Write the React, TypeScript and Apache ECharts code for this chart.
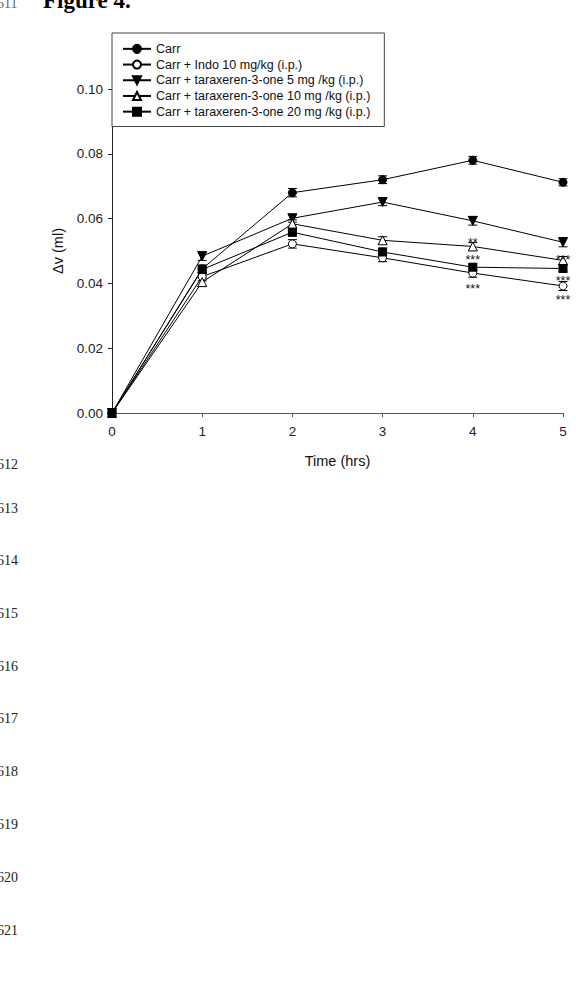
import React, { useEffect, useRef } from "react";
import * as echarts from "echarts";

// ---- data ----
const times = [0, 1, 2, 3, 4, 5];
const seriesNames = [
  "Carr",
  "Carr + Indo 10 mg/kg (i.p.)",
  "Carr + taraxeren-3-one 5 mg /kg (i.p.)",
  "Carr + taraxeren-3-one 10 mg /kg (i.p.)",
  "Carr + taraxeren-3-one 20 mg /kg (i.p.)",
];
const carr = [0, 0.0445, 0.068, 0.072, 0.078, 0.0712];
const indo = [0, 0.0421, 0.0522, 0.0479, 0.0432, 0.0392];
const tx5 = [0, 0.0484, 0.0601, 0.0651, 0.0593, 0.0527];
const tx10 = [0, 0.0404, 0.0584, 0.0533, 0.0514, 0.0471];
const tx20 = [0, 0.0443, 0.0558, 0.0497, 0.0450, 0.0446];
const carrErr = [0, 0.0012, 0.0013, 0.0012, 0.0012, 0.0011];
const indoErr = [0, 0.0013, 0.0013, 0.0012, 0.0013, 0.0014];
const tx5Err = [0, 0.0013, 0.0012, 0.0011, 0.0013, 0.0014];
const tx10Err = [0, 0.0013, 0.0012, 0.0011, 0.0012, 0.0012];
const tx20Err = [0, 0.0012, 0.0012, 0.0012, 0.0011, 0.0011];
// significance marks: [time, value, text]
const starMarks: [number, number, string][] = [
  [4, 0.0526, "**"],
  [4, 0.0473, "***"],
  [4, 0.0384, "***"],
  [5, 0.0473, "***"],
  [5, 0.0408, "***"],
  [5, 0.035, "***"],
];
const yTickDecimals = 2;
const xAxisTitle = "Time (hrs)";
const yAxisTitle = "\u0394v (ml)";
const figureTitle = "Figure 4.";
const topLineNumber = "611";
const lineNumbers = ["612", "613", "614", "615", "616", "617", "618", "619", "620", "621"];

const W = 576;
const H = 982;
const lineNumberY = [464, 508, 560, 613, 666, 718, 771, 824, 877, 930];

const SANS = "'Liberation Sans', Arial, sans-serif";
const SERIF = "'Liberation Serif', 'Times New Roman', serif";

function errorSeries(vals: number[], errs: number[]) {
  return {
    type: "custom",
    silent: true,
    z: 1,
    data: times.map((t, i) => [t, vals[i], errs[i]]),
    renderItem: (_params: any, api: any) => {
      const x = api.value(0);
      const y = api.value(1);
      const e = api.value(2);
      if (!e) return { type: "group", children: [] };
      const top = api.coord([x, y + e]);
      const bot = api.coord([x, y - e]);
      const hw = 4.5;
      const st = { stroke: "#000", lineWidth: 1 };
      return {
        type: "group",
        children: [
          { type: "line", shape: { x1: top[0], y1: top[1], x2: bot[0], y2: bot[1] }, style: st },
          { type: "line", shape: { x1: top[0] - hw, y1: top[1], x2: top[0] + hw, y2: top[1] }, style: st },
          { type: "line", shape: { x1: bot[0] - hw, y1: bot[1], x2: bot[0] + hw, y2: bot[1] }, style: st },
        ],
      };
    },
  };
}

function lineSeries(name: string, vals: number[], symbol: string, size: number, hollow: boolean, rotate = 0) {
  return {
    type: "line",
    name,
    data: times.map((t, i) => [t, vals[i]]),
    symbol,
    symbolSize: size,
    symbolRotate: rotate,
    showAllSymbol: true,
    z: 3,
    lineStyle: { color: "#000", width: 1 },
    itemStyle: { color: hollow ? "#fff" : "#000", borderColor: "#000", borderWidth: 1 },
    emphasis: { disabled: true },
  };
}

export default function App() {
  const ref = useRef<HTMLDivElement>(null);
  useEffect(() => {
    if (!ref.current) return;
    const chart = echarts.init(ref.current, undefined, { renderer: "svg" });
    const graphics: any[] = [
      {
        type: "text",
        x: 43,
        y: -11,
        style: { text: figureTitle, font: `bold 23px ${SERIF}`, fill: "#000" },
      },
      {
        type: "text",
        x: -3,
        y: -4,
        style: { text: topLineNumber, font: `14px ${SERIF}`, fill: "#666" },
      },
      ...lineNumbers.map((t, i) => ({
        type: "text",
        x: -3,
        y: lineNumberY[i],
        style: { text: t, font: `14px ${SERIF}`, fill: "#222", verticalAlign: "middle" },
      })),
    ];
    chart.setOption({
      animation: false,
      backgroundColor: "#fff",
      textStyle: { fontFamily: SANS },
      grid: { left: 112, right: 13, top: 89, bottom: 569, containLabel: false },
      legend: {
        data: seriesNames,
        orient: "vertical",
        left: 112,
        top: 33,
        padding: [8, 14, 7, 10],
        itemWidth: 28,
        itemHeight: 10,
        itemGap: 0,
        borderColor: "#444",
        borderWidth: 1,
        backgroundColor: "#fff",
        selectedMode: false,
        textStyle: { fontSize: 12.5, color: "#111", fontFamily: SANS, lineHeight: 15.7 },
        z: 10,
      },
      xAxis: {
        type: "value",
        min: 0,
        max: 5,
        interval: 1,
        name: xAxisTitle,
        nameLocation: "middle",
        nameGap: 40,
        nameTextStyle: { fontSize: 14.5, color: "#111", fontFamily: SANS },
        axisLine: { show: true, onZero: false, lineStyle: { color: "#555", width: 1 } },
        axisTick: { show: true, inside: false, length: 4, lineStyle: { color: "#555" } },
        axisLabel: { fontSize: 13.5, color: "#222", margin: 11, fontFamily: SANS },
        splitLine: { show: false },
      },
      yAxis: {
        type: "value",
        min: 0,
        max: 0.1,
        interval: 0.02,
        name: yAxisTitle,
        nameLocation: "middle",
        nameGap: 47,
        nameTextStyle: { fontSize: 14.5, color: "#111", fontFamily: SANS },
        axisLine: { show: true, onZero: false, lineStyle: { color: "#222", width: 1 } },
        axisTick: { show: true, inside: false, length: 4, lineStyle: { color: "#222" } },
        axisLabel: {
          fontSize: 13.5,
          color: "#222",
          margin: 9,
          fontFamily: SANS,
          formatter: (v: number) => v.toFixed(yTickDecimals),
        },
        splitLine: { show: false },
      },
      series: [
        errorSeries(carr, carrErr),
        errorSeries(indo, indoErr),
        errorSeries(tx5, tx5Err),
        errorSeries(tx10, tx10Err),
        errorSeries(tx20, tx20Err),
        lineSeries(seriesNames[0], carr, "circle", 8, false),
        lineSeries(seriesNames[1], indo, "circle", 8, true),
        lineSeries(seriesNames[2], tx5, "triangle", 9, false, 180),
        lineSeries(seriesNames[3], tx10, "triangle", 9, true),
        lineSeries(seriesNames[4], tx20, "rect", 8, false),
        {
          type: "custom",
          silent: true,
          z: 6,
          data: starMarks.map((m) => [m[0], m[1], m[2]]),
          renderItem: (params: any, api: any) => {
            const p = api.coord([api.value(0), api.value(1)]);
            return {
              type: "text",
              x: p[0],
              y: p[1],
              z2: 10,
              style: {
                text: starMarks[params.dataIndex][2],
                font: `12.5px ${SANS}`,
                fill: "#111",
                align: "center",
                verticalAlign: "middle",
              },
            };
          },
        },
      ],
      graphic: graphics,
    });
    return () => chart.dispose();
  }, []);
  return (
    <div
      ref={ref}
      style={{ position: "fixed", left: 0, top: 0, width: W, height: H, background: "#fff" }}
    />
  );
}
